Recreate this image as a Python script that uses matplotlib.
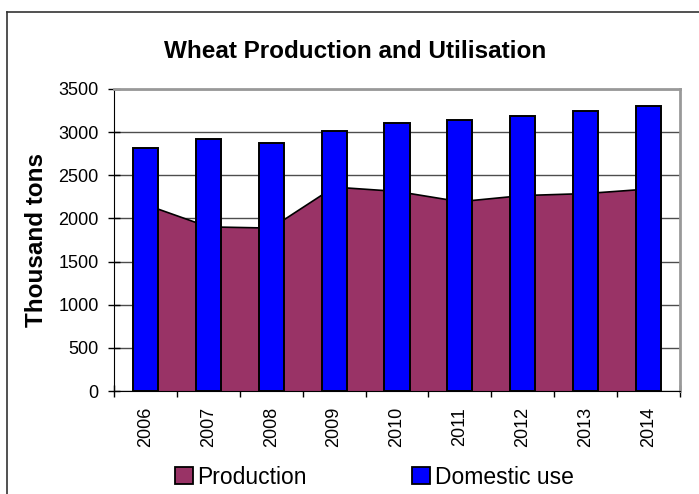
import matplotlib
matplotlib.use("Agg")
import matplotlib.pyplot as plt
from matplotlib.patches import Patch
from matplotlib.lines import Line2D

plt.rcParams["font.family"] = ["Liberation Sans", "DejaVu Sans"]

years = ["2006", "2007", "2008", "2009", "2010", "2011", "2012", "2013", "2014"]
production = [2160, 1902, 1888, 2363, 2313, 2194, 2265, 2288, 2341]
domestic_use = [2822, 2918, 2869, 3016, 3105, 3144, 3182, 3248, 3298]

PURPLE = "#993366"
BLUE = "#0000ff"
GRID = "#4d4d4d"
FRAME_GRAY = "#999999"

W, H = 699, 494
fig = plt.figure(figsize=(W / 100, H / 100), dpi=100)
fig.patch.set_facecolor("white")

left, right, top, bottom = 114, 680, 89, 391
ax = fig.add_axes([left / W, 1 - bottom / H, (right - left) / W, (bottom - top) / H])

x = list(range(len(years)))

ax.yaxis.grid(True, color=GRID, linewidth=1, zorder=0)
ax.set_axisbelow(True)

# production as an area behind the columns
ax.fill_between(x, production, 0, facecolor=PURPLE, edgecolor="none", zorder=1)
ax.plot(x, production, color="black", linewidth=1.2, zorder=1.5)
ax.bar(x, domestic_use, width=0.4, color=BLUE, edgecolor="black", linewidth=1.4, zorder=2)

ax.set_xlim(-0.5, len(years) - 0.5)
ax.set_ylim(0, 3500)
ax.set_yticks(range(0, 3501, 500))

# category boundary ticks, labels at the centres
ax.set_xticks([i - 0.5 for i in range(len(years) + 1)])
ax.set_xticklabels([])
ax.set_xticks(x, minor=True)
ax.set_xticklabels(years, minor=True, rotation=90, fontsize=13)
ax.tick_params(axis="x", which="minor", length=0, pad=11.5)
ax.tick_params(axis="x", which="major", direction="inout", length=9, width=1, color="black")
ax.tick_params(axis="y", direction="inout", length=9, width=1, pad=6.5, labelsize=13)

ax.spines["left"].set_color("black")
ax.spines["bottom"].set_color("black")
ax.spines["top"].set_color(FRAME_GRAY)
ax.spines["right"].set_color(FRAME_GRAY)
for s in ("top", "right"):
    ax.spines[s].set_linewidth(2)

ax.set_ylabel("Thousand tons", fontsize=17.5, fontweight="bold")
ax.yaxis.set_label_coords((48 - left) / (right - left), 0.5)

fig.text(355 / W, 1 - 52 / H, "Wheat Production and Utilisation",
         ha="center", va="center", fontsize=17.5, fontweight="bold")

handles = [Patch(facecolor=PURPLE, edgecolor="black", linewidth=1.3),
           Patch(facecolor=BLUE, edgecolor="black", linewidth=1.3)]
fig.legend(handles, ["Production", "Domestic use"], ncol=2, frameon=False,
           loc="center left", bbox_to_anchor=(175 / W, 1 - 477 / H),
           fontsize=16.5, handlelength=0.78, handleheight=0.78,
           handletextpad=0.2, columnspacing=4.6, borderpad=0, borderaxespad=0)

# outer chart border (left and top edges visible in the reference)
fig.add_artist(Line2D([7 / W, 7 / W], [0, 1 - 12 / H], color="#333333", linewidth=1.2,
                      transform=fig.transFigure))
fig.add_artist(Line2D([7 / W, 1], [1 - 12 / H, 1 - 12 / H], color="#333333", linewidth=1.2,
                      transform=fig.transFigure))

fig.savefig("out.png", dpi=100, facecolor="white")
